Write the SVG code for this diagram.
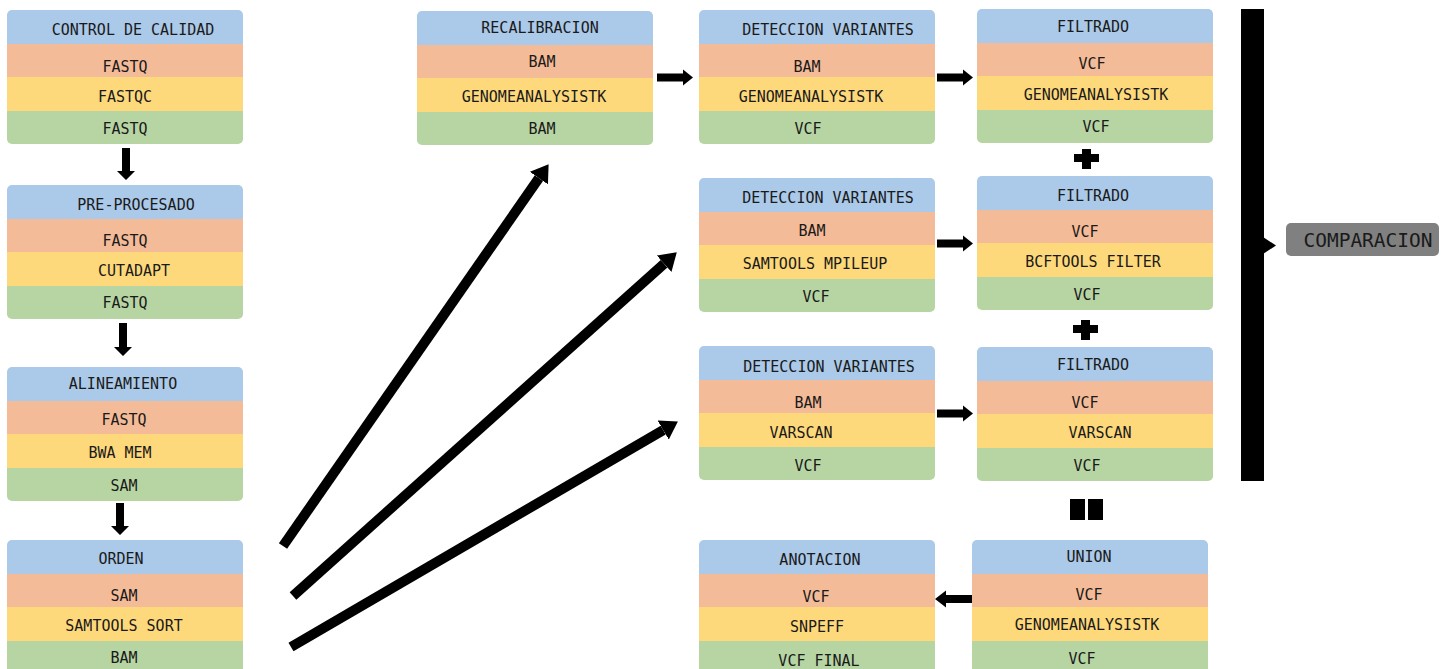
<svg xmlns="http://www.w3.org/2000/svg" xmlns:xlink="http://www.w3.org/1999/xlink" width="1450" height="669" viewBox="0 0 1450 669">
<style>
.h{fill:#abc9e8}.i{fill:#f4bb98}.t{fill:#fed97b}.o{fill:#b6d5a3}
text{font-family:"DejaVu Sans Mono","Liberation Mono",monospace;font-size:15px;fill:#1a1a1a;text-anchor:middle}
.blk{fill:#000}
.diag{stroke:#000;stroke-width:10;fill:none;marker-end:url(#ah)}
</style>
<defs>
<clipPath id="cb"><rect x="0" y="0" width="236" height="134" rx="5"/></clipPath>
<g id="bg" clip-path="url(#cb)">
<rect class="h" x="0" y="0" width="236" height="34"/>
<rect class="i" x="0" y="34" width="236" height="33"/>
<rect class="t" x="0" y="67" width="236" height="34"/>
<rect class="o" x="0" y="101" width="236" height="33"/>
</g>
<marker id="ah" markerUnits="userSpaceOnUse" viewBox="0 0 17 22" markerWidth="17" markerHeight="22" refX="0" refY="11" orient="auto"><path d="M0,0 L17,11 L0,22 z" fill="#000"/></marker>
</defs>
<rect width="1450" height="669" fill="#fff"/>

<g id="control-calidad"><use xlink:href="#bg" x="7" y="10"/>
<text x="133" y="34.5">CONTROL DE CALIDAD</text><text x="125" y="71.5">FASTQ</text><text x="125" y="101.5">FASTQC</text><text x="125" y="133.5">FASTQ</text></g>
<g id="pre-procesado"><use xlink:href="#bg" x="7" y="185"/>
<text x="136" y="209.5">PRE-PROCESADO</text><text x="125" y="245.5">FASTQ</text><text x="134" y="275.5">CUTADAPT</text><text x="125" y="307.5">FASTQ</text></g>
<g id="alineamiento"><use xlink:href="#bg" x="7" y="367"/>
<text x="123" y="388.5">ALINEAMIENTO</text><text x="124" y="424.5">FASTQ</text><text x="120" y="457.5">BWA MEM</text><text x="124" y="490.5">SAM</text></g>
<g id="orden"><use xlink:href="#bg" x="7" y="540"/>
<text x="121" y="563.5">ORDEN</text><text x="124" y="600.5">SAM</text><text x="124" y="630.5">SAMTOOLS SORT</text><text x="124" y="662.5">BAM</text></g>
<g id="recalibracion"><use xlink:href="#bg" x="417" y="11"/>
<text x="540" y="32.5">RECALIBRACION</text><text x="542" y="66.5">BAM</text><text x="534" y="101.5">GENOMEANALYSISTK</text><text x="542" y="133.5">BAM</text></g>
<g id="deteccion-gatk"><use xlink:href="#bg" x="699" y="10"/>
<text x="828" y="34.5">DETECCION VARIANTES</text><text x="807" y="71.5">BAM</text><text x="811" y="101.5">GENOMEANALYSISTK</text><text x="808" y="133.5">VCF</text></g>
<g id="filtrado-gatk"><use xlink:href="#bg" x="977" y="9"/>
<text x="1093" y="31.5">FILTRADO</text><text x="1092" y="68.5">VCF</text><text x="1096" y="99.5">GENOMEANALYSISTK</text><text x="1096" y="131.5">VCF</text></g>
<g id="deteccion-samtools"><use xlink:href="#bg" x="699" y="178"/>
<text x="828" y="202.5">DETECCION VARIANTES</text><text x="812" y="235.5">BAM</text><text x="815" y="268.5">SAMTOOLS MPILEUP</text><text x="816" y="301.5">VCF</text></g>
<g id="filtrado-bcftools"><use xlink:href="#bg" x="977" y="176"/>
<text x="1093" y="200.5">FILTRADO</text><text x="1085" y="236.5">VCF</text><text x="1093" y="266.5">BCFTOOLS FILTER</text><text x="1087" y="299.5">VCF</text></g>
<g id="deteccion-varscan"><use xlink:href="#bg" x="699" y="346"/>
<text x="829" y="371.5">DETECCION VARIANTES</text><text x="808" y="407.5">BAM</text><text x="801" y="437.5">VARSCAN</text><text x="808" y="470.5">VCF</text></g>
<g id="filtrado-varscan"><use xlink:href="#bg" x="977" y="347"/>
<text x="1093" y="369.5">FILTRADO</text><text x="1085" y="407.5">VCF</text><text x="1100" y="437.5">VARSCAN</text><text x="1087" y="470.5">VCF</text></g>
<g id="anotacion"><use xlink:href="#bg" x="699" y="540"/>
<text x="820" y="564.5">ANOTACION</text><text x="816" y="601.5">VCF</text><text x="817" y="631.5">SNPEFF</text><text x="819" y="665.5">VCF FINAL</text></g>
<g id="union"><use xlink:href="#bg" x="972" y="540"/>
<text x="1089" y="561.5">UNION</text><text x="1089" y="599.5">VCF</text><text x="1087" y="629.5">GENOMEANALYSISTK</text><text x="1082" y="663.5">VCF</text></g>
<g id="comparacion"><rect x="1286" y="223" width="153" height="33" rx="5" fill="#808080"/>
<text x="1368" y="246.5" style="font-size:19.5px">COMPARACION</text></g>

<g id="symbols">
<path class="blk" d="M1074,154h25v8h-25z M1082,149h9v20h-9z"/>
<path class="blk" d="M1073,325h25v8h-25z M1081,320h9v20h-9z"/>
<rect class="blk" x="1070" y="499" width="15" height="21"/>
<rect class="blk" x="1088" y="499" width="15" height="21"/>
</g>

<g id="connectors">
<polygon class="blk" points="122,148 130,148 130,171 135,171 126,180 117,171 122,171"/>
<polygon class="blk" points="119,323 127,323 127,347 132,347 123,356 114,347 119,347"/>
<polygon class="blk" points="116,503 124,503 124,526 129,526 120,535 111,526 116,526"/>
<polygon class="blk" points="657,73.5 683,73.5 683,69.5 693,77.5 683,85.5 683,81.5 657,81.5"/>
<polygon class="blk" points="937,73.5 963,73.5 963,69.5 973,77.5 963,85.5 963,81.5 937,81.5"/>
<polygon class="blk" points="937,239.5 963,239.5 963,235.5 973,243.5 963,251.5 963,247.5 937,247.5"/>
<polygon class="blk" points="937,409.5 963,409.5 963,405.5 973,413.5 963,421.5 963,417.5 937,417.5"/>
<polygon class="blk" points="972,595 946,595 946,590.5 935,599 946,607.5 946,603 972,603"/>
<line class="diag" x1="283" y1="546" x2="538.9" y2="178.1"/>
<line class="diag" x1="293" y1="596" x2="664.1" y2="263.7"/>
<line class="diag" x1="291" y1="647" x2="663.2" y2="430.1"/>
<rect class="blk" x="1241" y="9" width="23" height="472"/>
<polygon class="blk" points="1263,237 1276,245.5 1263,254"/>
</g>
</svg>
